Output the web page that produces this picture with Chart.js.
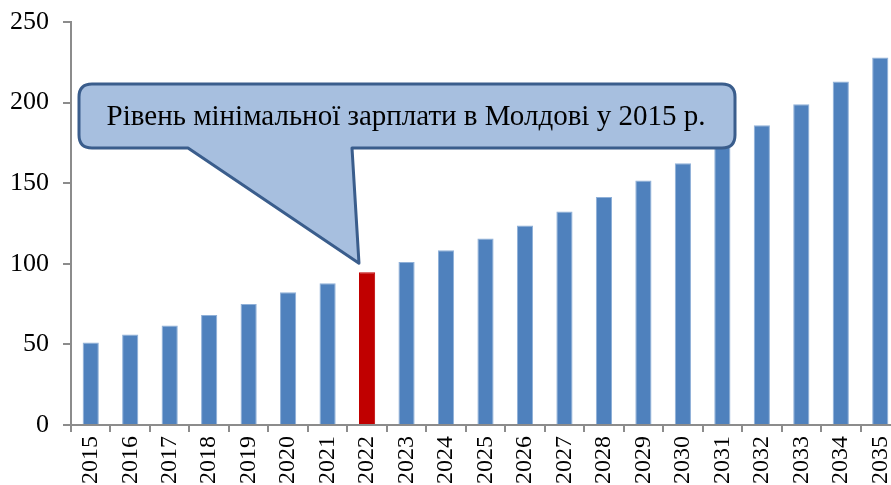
<!DOCTYPE html>
<html lang="uk">
<head>
  <meta charset="UTF-8">
  <title>Мінімальна зарплата</title>
  <script src="https://cdn.jsdelivr.net/npm/chart.js"></script>
  <style>
    html, body { margin: 0; padding: 0; background: #fff; overflow: hidden; }
    canvas { display: block; }
  </style>
</head>
<body>
  <canvas id="wageChart" width="902" height="485"></canvas>

  <script>
    const years = ['2015','2016','2017','2018','2019','2020','2021','2022','2023','2024','2025',
                   '2026','2027','2028','2029','2030','2031','2032','2033','2034','2035'];
    const wages = [51.2, 56.2, 61.8, 68.2, 75, 82.4, 88, 94.8, 101.1, 108.4, 115.7,
                   123.7, 132.4, 141.5, 151.6, 162.3, 174, 185.9, 198.9, 213.1, 228];
    const highlightYear = '2022';
    const yTicks = [0, 50, 100, 150, 200, 250];
    const calloutText = 'Рівень мінімальної зарплати в Молдові у 2015 р.';

    const BLUE = '#4f81bd';
    const RED = '#c00000';
    const AXIS = '#8c8c8c';
    const SERIF = '"Liberation Serif", "Times New Roman", serif';

    // callout bubble pointing at the highlighted bar
    const calloutPlugin = {
      id: 'callout',
      afterDatasetsDraw(chart) {
        const ctx = chart.ctx;
        const idx = years.indexOf(highlightYear);
        const bar = chart.getDatasetMeta(0).data[idx];
        const tipX = bar.x - bar.width / 2;
        const tipY = bar.y - 9;

        const left = 79, top = 84, right = 735, bottom = 148, r = 13;
        const baseL = 188, baseR = 352;

        ctx.save();
        ctx.beginPath();
        ctx.moveTo(left + r, top);
        ctx.lineTo(right - r, top);
        ctx.quadraticCurveTo(right, top, right, top + r);
        ctx.lineTo(right, bottom - r);
        ctx.quadraticCurveTo(right, bottom, right - r, bottom);
        ctx.lineTo(baseR, bottom);
        ctx.lineTo(tipX, tipY);
        ctx.lineTo(baseL, bottom);
        ctx.lineTo(left + r, bottom);
        ctx.quadraticCurveTo(left, bottom, left, bottom - r);
        ctx.lineTo(left, top + r);
        ctx.quadraticCurveTo(left, top, left + r, top);
        ctx.closePath();
        ctx.fillStyle = '#a7bfdf';
        ctx.fill();
        ctx.lineWidth = 3;
        ctx.lineJoin = 'round';
        ctx.strokeStyle = '#3a5d8c';
        ctx.stroke();

        ctx.fillStyle = '#000';
        ctx.font = '29px ' + SERIF;
        ctx.textAlign = 'center';
        ctx.textBaseline = 'middle';
        ctx.fillText(calloutText, (left + right) / 2 - 1, 117);
        ctx.restore();
      }
    };

    new Chart(document.getElementById('wageChart'), {
      type: 'bar',
      data: {
        labels: years,
        datasets: [{
          data: wages,
          backgroundColor: years.map(y => y === highlightYear ? RED : BLUE),
          borderColor: years.map(y => y === highlightYear ? RED : '#8fb0d8'),
          borderWidth: { left: 1, right: 1, top: 1, bottom: 0 },
          barPercentage: 0.41,
          categoryPercentage: 1
        }]
      },
      options: {
        responsive: false,
        animation: false,
        layout: { padding: { top: 22, right: 2, left: 0, bottom: 0 } },
        plugins: { legend: { display: false }, tooltip: { enabled: false } },
        scales: {
          x: {
            grid: { drawOnChartArea: false, color: AXIS, lineWidth: 2, tickLength: 7, offset: true },
            border: { color: AXIS, width: 2 },
            ticks: {
              color: '#000',
              font: { family: SERIF, size: 24 },
              minRotation: 90,
              maxRotation: 90,
              padding: 4,
              autoSkip: false
            },
            afterFit(scale) {
              scale.height = 60;
              scale.paddingLeft = 0;
              scale.paddingRight = 0;
            }
          },
          y: {
            min: 0,
            max: 250,
            afterBuildTicks(scale) { scale.ticks = yTicks.map(v => ({ value: v })); },
            grid: { drawOnChartArea: false, color: AXIS, lineWidth: 2, tickLength: 8 },
            border: { color: AXIS, width: 2 },
            ticks: {
              color: '#000',
              font: { family: SERIF, size: 26 },
              padding: 14
            },
            afterFit(scale) {
              scale.width = 71;
              scale.paddingTop = 0;
              scale.paddingBottom = 0;
            }
          }
        }
      },
      plugins: [calloutPlugin]
    });
  </script>
</body>
</html>
